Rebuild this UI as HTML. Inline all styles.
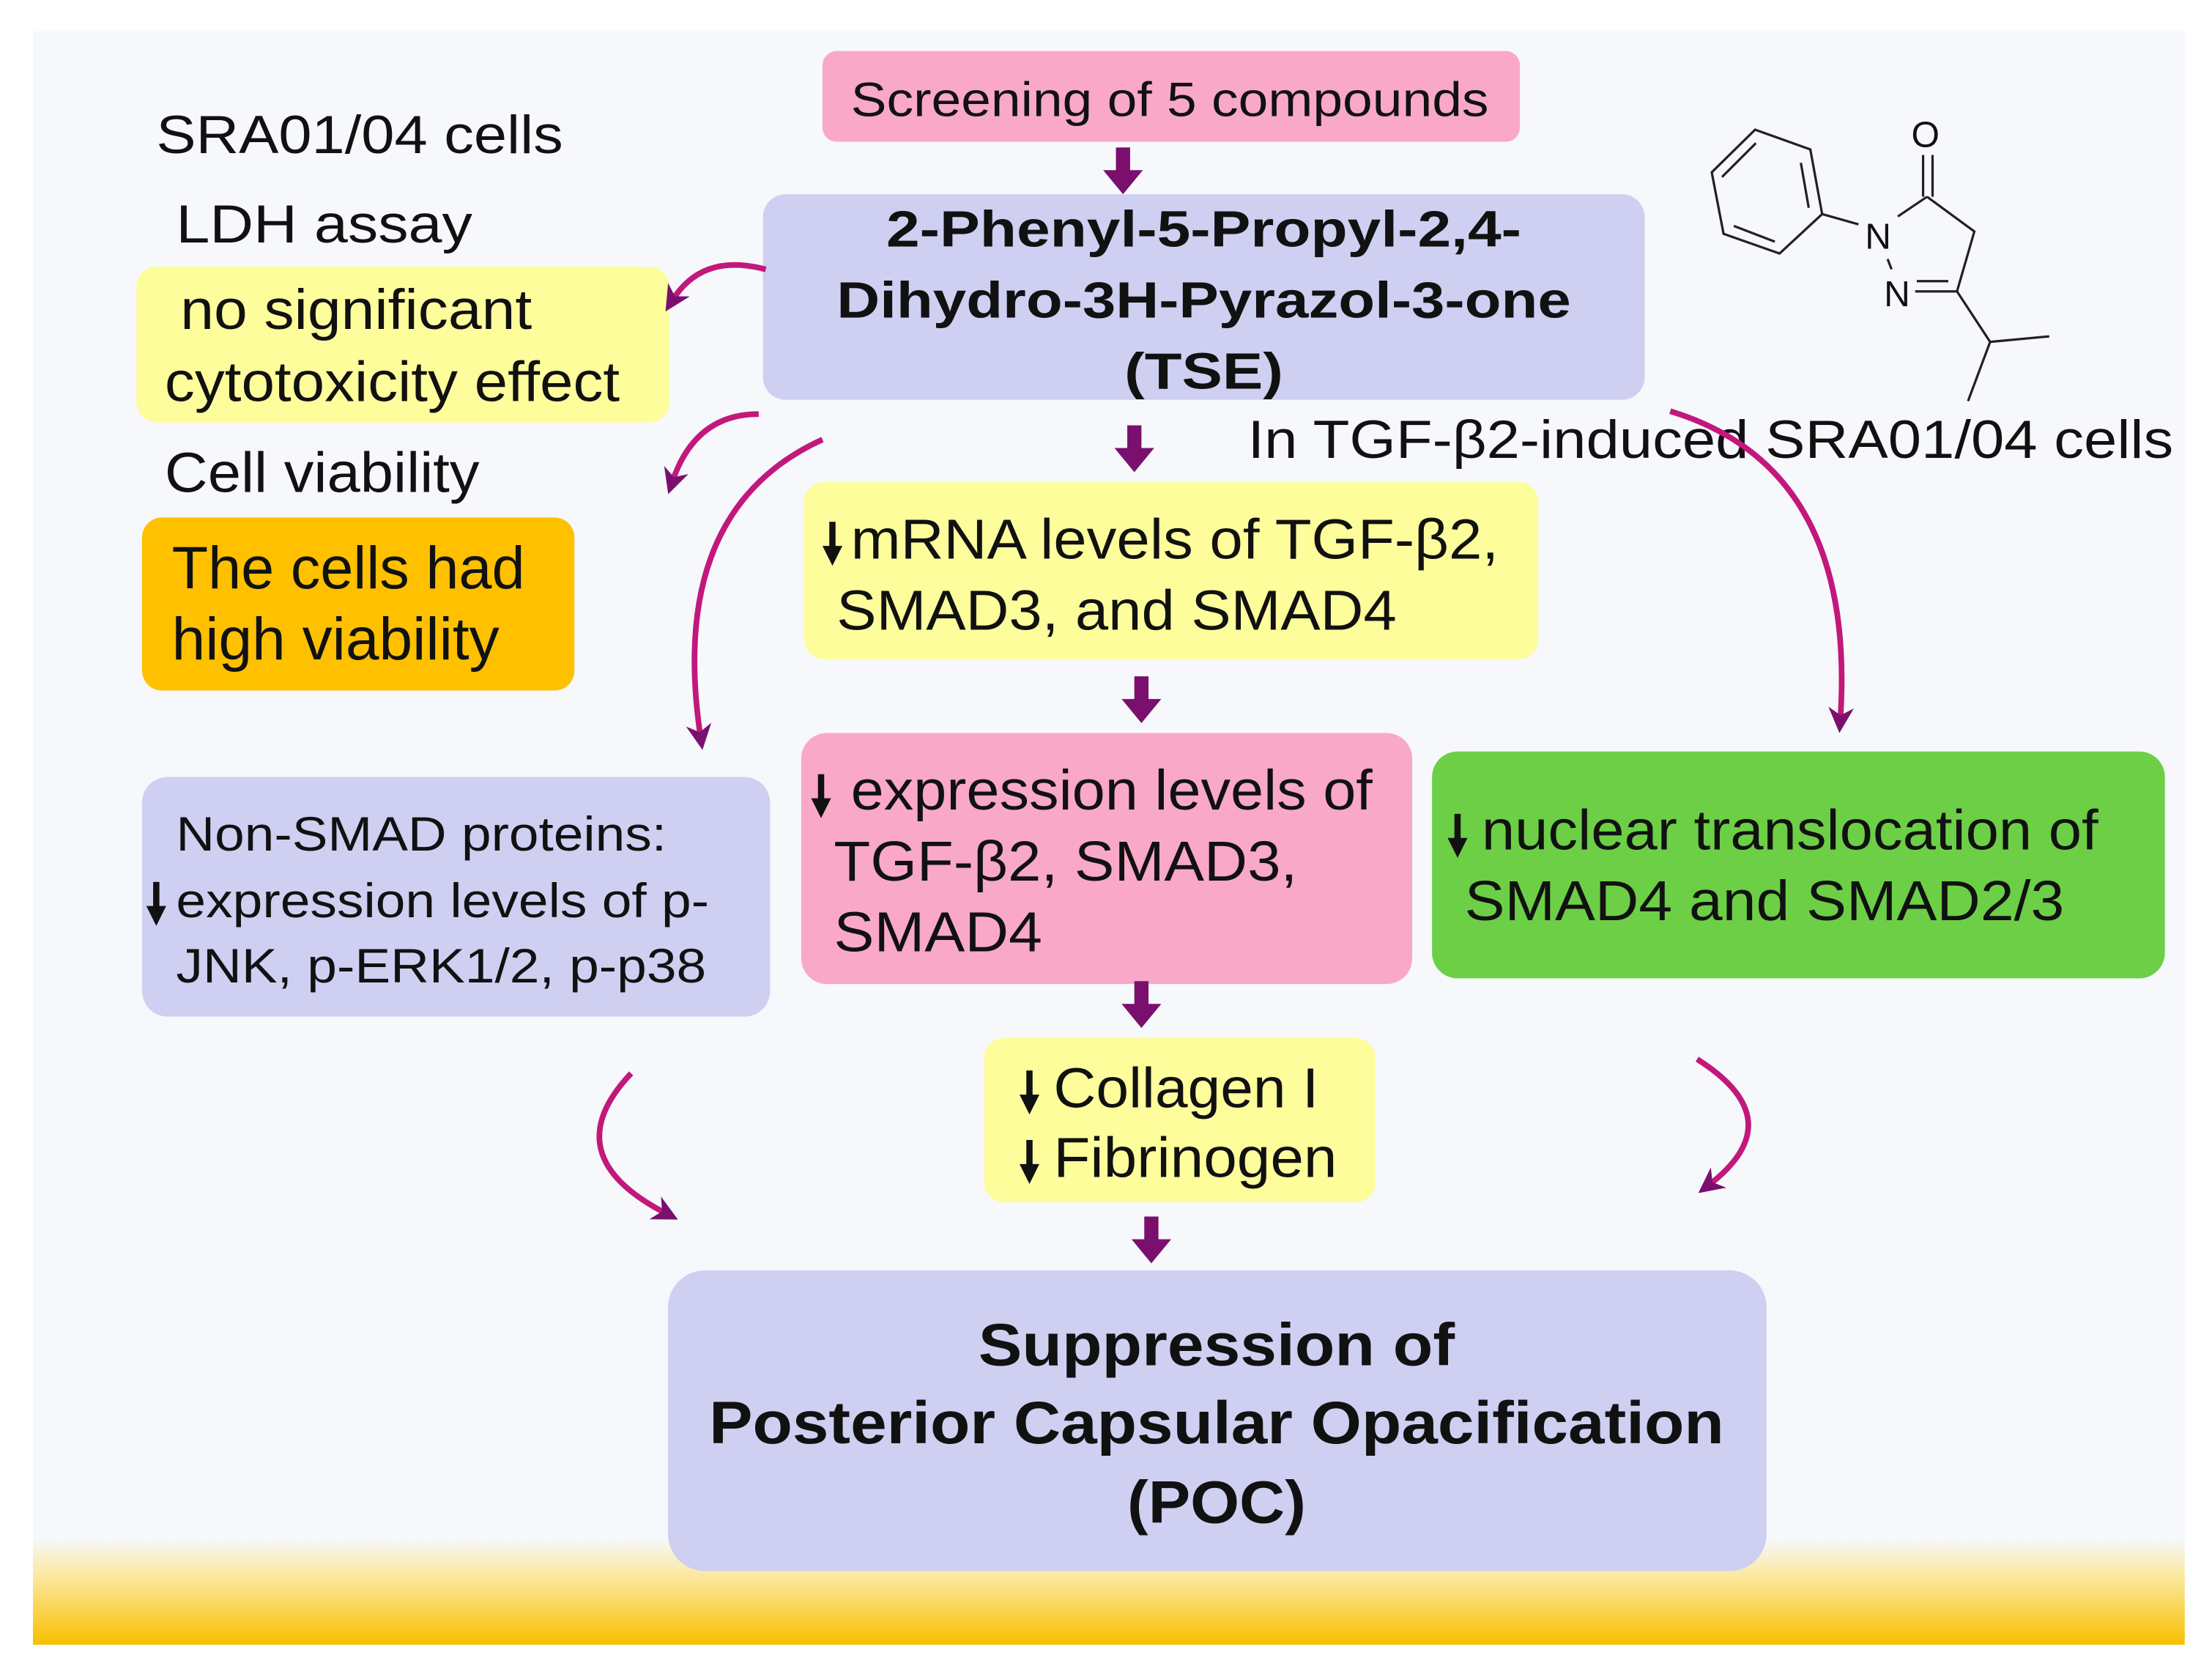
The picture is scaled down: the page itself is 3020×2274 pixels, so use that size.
<!DOCTYPE html>
<html><head><meta charset="utf-8"><style>
html,body{margin:0;padding:0;background:#fff;}
svg{display:block;}
text{font-family:"Liberation Sans",sans-serif;fill:#111;}
.b{font-weight:bold;}
</style></head><body>
<svg width="3020" height="2274" viewBox="0 0 1560 1175" xmlns="http://www.w3.org/2000/svg">
<defs>
<linearGradient id="g" x1="0" y1="0" x2="0" y2="1">
<stop offset="0" stop-color="#f6f8fc"/><stop offset="0.35" stop-color="#fbe9a0"/><stop offset="1" stop-color="#f8bf00"/>
</linearGradient>
<marker id="ah" viewBox="0 0 10 10" refX="5" refY="5" markerWidth="4.5" markerHeight="4.5" orient="auto-start-reverse">
<path d="M0,0 L10,5 L0,10 L3,5 z" fill="#7a0f6e"/></marker>
<g id="da"><rect x="-5" y="0" width="10" height="18" fill="#7a0f6e"/><path d="M-14,16 L14,16 L0,33 z" fill="#7a0f6e"/></g>
<g id="sa"><rect x="-2.2" y="0" width="4.4" height="22" fill="#111"/><path d="M-7,17 L7,17 L0,31 z" fill="#111"/></g>
</defs>
<rect x="23" y="22" width="1518" height="1138" fill="#f6f8fc"/>
<rect x="23" y="1085" width="1518" height="75" fill="url(#g)"/>

<rect x="580" y="36" width="492" height="64" rx="10" fill="#f9a8c8"/>
<text x="600" y="82" font-size="34" textLength="450" lengthAdjust="spacingAndGlyphs">Screening of 5 compounds</text>

<rect x="538" y="137" width="622" height="145" rx="16" fill="#cfcff2"/>
<text class="b" x="625" y="174" font-size="36" textLength="448" lengthAdjust="spacingAndGlyphs">2-Phenyl-5-Propyl-2,4-</text>
<text class="b" x="590" y="224" font-size="36" textLength="518" lengthAdjust="spacingAndGlyphs">Dihydro-3H-Pyrazol-3-one</text>
<text class="b" x="793" y="274" font-size="36" textLength="112" lengthAdjust="spacingAndGlyphs">(TSE)</text>

<text x="110" y="108" font-size="38" textLength="287" lengthAdjust="spacingAndGlyphs">SRA01/04 cells</text>
<text x="124" y="171" font-size="38" textLength="209" lengthAdjust="spacingAndGlyphs">LDH assay</text>
<rect x="96" y="188" width="376" height="110" rx="14" fill="#fdfd9c"/>
<text x="127" y="232" font-size="40" textLength="248" lengthAdjust="spacingAndGlyphs">no significant</text>
<text x="116" y="283" font-size="40" textLength="321" lengthAdjust="spacingAndGlyphs">cytotoxicity effect</text>
<text x="116" y="347" font-size="40" textLength="222" lengthAdjust="spacingAndGlyphs">Cell viability</text>
<rect x="100" y="365" width="305" height="122" rx="14" fill="#ffc000"/>
<text x="121" y="415" font-size="42" textLength="249" lengthAdjust="spacingAndGlyphs">The cells had</text>
<text x="121" y="465" font-size="42" textLength="231" lengthAdjust="spacingAndGlyphs">high viability</text>

<text x="880" y="323" font-size="38" textLength="653" lengthAdjust="spacingAndGlyphs">In TGF-β2-induced SRA01/04 cells</text>

<rect x="567" y="340" width="518" height="125" rx="14" fill="#fdfd9c"/>
<use href="#sa" x="587" y="368"/>
<text x="600" y="394" font-size="40" textLength="457" lengthAdjust="spacingAndGlyphs">mRNA levels of TGF-β2,</text>
<text x="590" y="444" font-size="40" textLength="395" lengthAdjust="spacingAndGlyphs">SMAD3, and SMAD4</text>

<rect x="565" y="517" width="431" height="177" rx="18" fill="#f9a8c8"/>
<use href="#sa" x="579" y="546"/>
<text x="600" y="571" font-size="40" textLength="368" lengthAdjust="spacingAndGlyphs">expression levels of</text>
<text x="588" y="621" font-size="40" textLength="327" lengthAdjust="spacingAndGlyphs">TGF-β2, SMAD3,</text>
<text x="588" y="671" font-size="40" textLength="147" lengthAdjust="spacingAndGlyphs">SMAD4</text>

<rect x="1010" y="530" width="517" height="160" rx="18" fill="#6ccf46"/>
<use href="#sa" x="1028" y="574"/>
<text x="1045" y="599" font-size="40" textLength="435" lengthAdjust="spacingAndGlyphs">nuclear translocation of</text>
<text x="1033" y="649" font-size="40" textLength="423" lengthAdjust="spacingAndGlyphs">SMAD4 and SMAD2/3</text>

<rect x="100" y="548" width="443" height="169" rx="18" fill="#cfcff2"/>
<text x="124" y="600" font-size="34" textLength="346" lengthAdjust="spacingAndGlyphs">Non-SMAD proteins:</text>
<use href="#sa" x="110" y="622"/>
<text x="124" y="647" font-size="34" textLength="376" lengthAdjust="spacingAndGlyphs">expression levels of p-</text>
<text x="124" y="693" font-size="34" textLength="374" lengthAdjust="spacingAndGlyphs">JNK, p-ERK1/2, p-p38</text>

<rect x="694" y="732" width="276" height="116" rx="14" fill="#fdfd9c"/>
<use href="#sa" x="726" y="755"/>
<text x="743" y="781" font-size="40" textLength="187" lengthAdjust="spacingAndGlyphs">Collagen I</text>
<use href="#sa" x="726" y="804"/>
<text x="743" y="830" font-size="40" textLength="200" lengthAdjust="spacingAndGlyphs">Fibrinogen</text>

<rect x="471" y="896" width="775" height="212" rx="26" fill="#cfcff2"/>
<text class="b" x="690" y="963" font-size="42" textLength="336" lengthAdjust="spacingAndGlyphs">Suppression of</text>
<text class="b" x="500" y="1018" font-size="42" textLength="716" lengthAdjust="spacingAndGlyphs">Posterior Capsular Opacification</text>
<text class="b" x="795" y="1074" font-size="42" textLength="126" lengthAdjust="spacingAndGlyphs">(POC)</text>

<use href="#da" x="792" y="104"/>
<use href="#da" x="800" y="300"/>
<use href="#da" x="805" y="477"/>
<use href="#da" x="805" y="692"/>
<use href="#da" x="812" y="858"/>

<g fill="none" stroke="#c2187c" stroke-width="4" marker-end="url(#ah)">
<path d="M540,190 Q495,178 474,212"/>
<path d="M535,292 Q490,292 474,340"/>
<path d="M580,310 Q470,360 494,520"/>
<path d="M1178,290 Q1310,330 1298,508"/>
<path d="M445,757 Q390,815 470,856"/>
<path d="M1197,747 Q1265,790 1205,836"/>
</g>

<g transform="scale(0.51656) translate(2292,120) scale(1.077) translate(-2280,-120)" stroke="#222" stroke-width="3" fill="none">
<path d="M2377,173 L2447,198 L2462,280 L2408,330 L2337,305 L2322,227 Z"/>
<path d="M2378,190 L2335,233 M2435,215 L2445,272 M2350,295 L2402,315"/>
<path d="M2462,280 L2508,293 M2558,283 L2595,258 M2590,258 L2590,205 M2602,258 L2602,205 M2595,258 L2655,302 L2633,378 L2580,378 M2622,365 L2582,365 M2545,337 L2550,350 M2633,378 L2675,442 L2750,435 M2675,442 L2647,517"/>
<text x="2533" y="324" font-size="46" text-anchor="middle" stroke="none" fill="#222">N</text>
<text x="2557" y="397" font-size="46" text-anchor="middle" stroke="none" fill="#222">N</text>
<text x="2593" y="195" font-size="46" text-anchor="middle" stroke="none" fill="#222">O</text>
</g>
</svg>
</body></html>
